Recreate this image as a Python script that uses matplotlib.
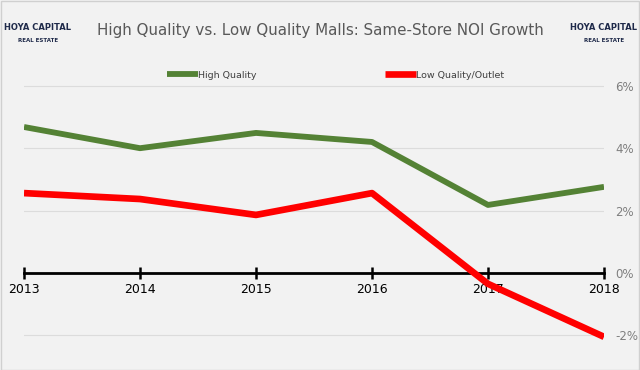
import matplotlib.pyplot as plt
from matplotlib.ticker import FuncFormatter

years = [2013, 2014, 2015, 2016, 2017, 2018]
high_quality = [4.68, 4.00, 4.49, 4.20, 2.18, 2.76]
low_quality = [2.56, 2.37, 1.86, 2.56, -0.35, -2.05]
y_ticks = [-2, 0, 2, 4, 6]

title = 'High Quality vs. Low Quality Malls: Same-Store NOI Growth'

plt.rcParams['font.family'] = ['DejaVu Sans']

fig = plt.figure(figsize=(6.4, 3.7), dpi=100, facecolor='#f2f2f2')
ax = fig.add_axes([24 / 640, 1 - 354 / 370, 580 / 640, (354 - 79.6) / 370])
ax.set_facecolor('#f2f2f2')

for y in [-2, 2, 4, 6]:
    ax.axhline(y, color='#dcdcdc', lw=0.8, zorder=0)

ax.plot(years, high_quality, color='#548235', lw=4.2, label='High Quality', zorder=3,
        solid_capstyle='butt')
ax.plot(years, low_quality, color='#ff0000', lw=4.8, label='Low Quality/Outlet', zorder=3,
        solid_capstyle='butt')

ax.set_xlim(2013, 2018)
ax.set_ylim(-2.6, 6.2)

# zero line acts as the x axis
ax.spines['bottom'].set_position(('data', 0))
ax.spines['bottom'].set_linewidth(2)
ax.spines['bottom'].set_zorder(2)
for s in ['top', 'left', 'right']:
    ax.spines[s].set_visible(False)
ax.set_xticks(years)
ax.set_xticklabels([str(y) for y in years])
ax.tick_params(axis='x', direction='inout', length=8, width=1.8, labelsize=9,
               pad=3, color='black')

ax.yaxis.tick_right()
ax.set_yticks(y_ticks)
ax.yaxis.set_major_formatter(FuncFormatter(lambda v, p: f'{v:.0f}%'))
ax.tick_params(axis='y', length=0, labelsize=8.5, labelcolor='#7f7f7f', pad=8)

leg = ax.legend(loc='center', ncol=2, frameon=False, fontsize=6.8,
                handlelength=3.3, handletextpad=0.0, columnspacing=13.6)
leg.set_bbox_to_anchor((0.537, (354 - 75) / 274.4), transform=ax.transAxes)
for t in leg.get_texts():
    t.set_color('#404040')

fig.text(0.5, 1 - 31 / 370, title, ha='center', va='center', fontsize=10.9,
         color='#595959')

# logos
for xc in [38 / 640, 604 / 640]:
    fig.text(xc, 1 - 28 / 370, 'HOYA CAPITAL', ha='center', va='center', fontsize=6,
             fontweight='bold', color='#1f2a4a')
    fig.text(xc, 1 - 40 / 370, 'REAL ESTATE', ha='center', va='center', fontsize=4,
             fontweight='bold', color='#1f2a4a')

fig.patches.append(plt.Rectangle((0.001, 0.001), 0.997, 0.997, transform=fig.transFigure,
                                 fill=False, edgecolor='#d0d0d0', lw=1))

fig.savefig('out.png', dpi=100, facecolor=fig.get_facecolor())
